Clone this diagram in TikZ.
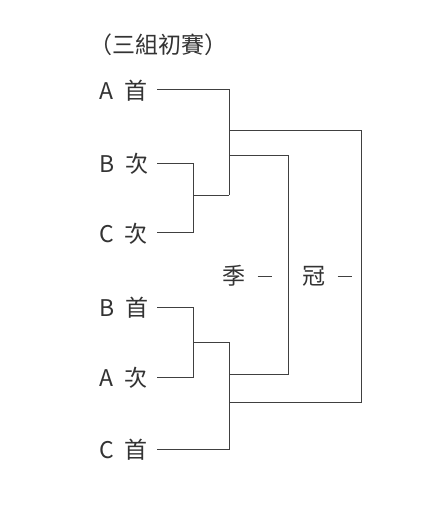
\documentclass[tikz,border=0pt]{standalone}
\usepackage{fontspec}
\newfontfamily\cjk{Noto Sans CJK TC}
\begin{document}
\begin{tikzpicture}[x=1pt,y=-1pt,
  lbl/.style={font=\cjk\fontsize{23}{23}\selectfont, inner sep=0pt, text=black!80},
  ln/.style={draw=black!75, line width=0.8pt}]
\useasboundingbox (0,0) rectangle (421,529);
\node[lbl] (title) at (158,45) {（三組初賽）};
\node[lbl, anchor=west] (a) at (99,91) {A\hspace{11pt}首};
\node[lbl, anchor=west] (b) at (99,164) {B\hspace{11pt}次};
\node[lbl, anchor=west] (c) at (99,234) {C\hspace{11pt}次};
\node[lbl, anchor=west] (d) at (99,308) {B\hspace{11pt}首};
\node[lbl, anchor=west] (e) at (99,378) {A\hspace{11pt}次};
\node[lbl, anchor=west] (f) at (99,450) {C\hspace{11pt}首};
\node[lbl] (ji) at (234,276) {季};
\node[lbl] (gu) at (314,276) {冠};
\coordinate (a1) at (157,89);
\coordinate (b1) at (157,163);
\coordinate (c1) at (157,232);
\coordinate (d1) at (157,307);
\coordinate (e1) at (157,377);
\coordinate (f1) at (157,449);
\coordinate (bc) at (193,195);
\coordinate (de) at (193,342);
\coordinate (top) at (229,130);
\coordinate (top2) at (229,155);
\coordinate (bot) at (229,402);
\coordinate (bot2) at (229,374);
% dashes
\draw[ln] ([xshift=12pt]ji.east) -- ++(14,0);
\draw[ln] ([xshift=12pt]gu.east) -- ++(14,0);
% upper group
\draw[ln] (a1) -- (229,89) -- (229,195);
\draw[ln] (b1) -- (193,163) -- (193,232) -- (c1);
\draw[ln] (bc) -- (229,195);
% lower group
\draw[ln] (d1) -- (193,307) -- (193,377) -- (e1);
\draw[ln] (de) -- (229,342) -- (229,449) -- (f1);
% finals
\draw[ln] (top) -- (361,130) -- (361,402) -- (bot);
\draw[ln] (top2) -- (288,155) -- (288,374) -- (bot2);
\end{tikzpicture}
\end{document}
